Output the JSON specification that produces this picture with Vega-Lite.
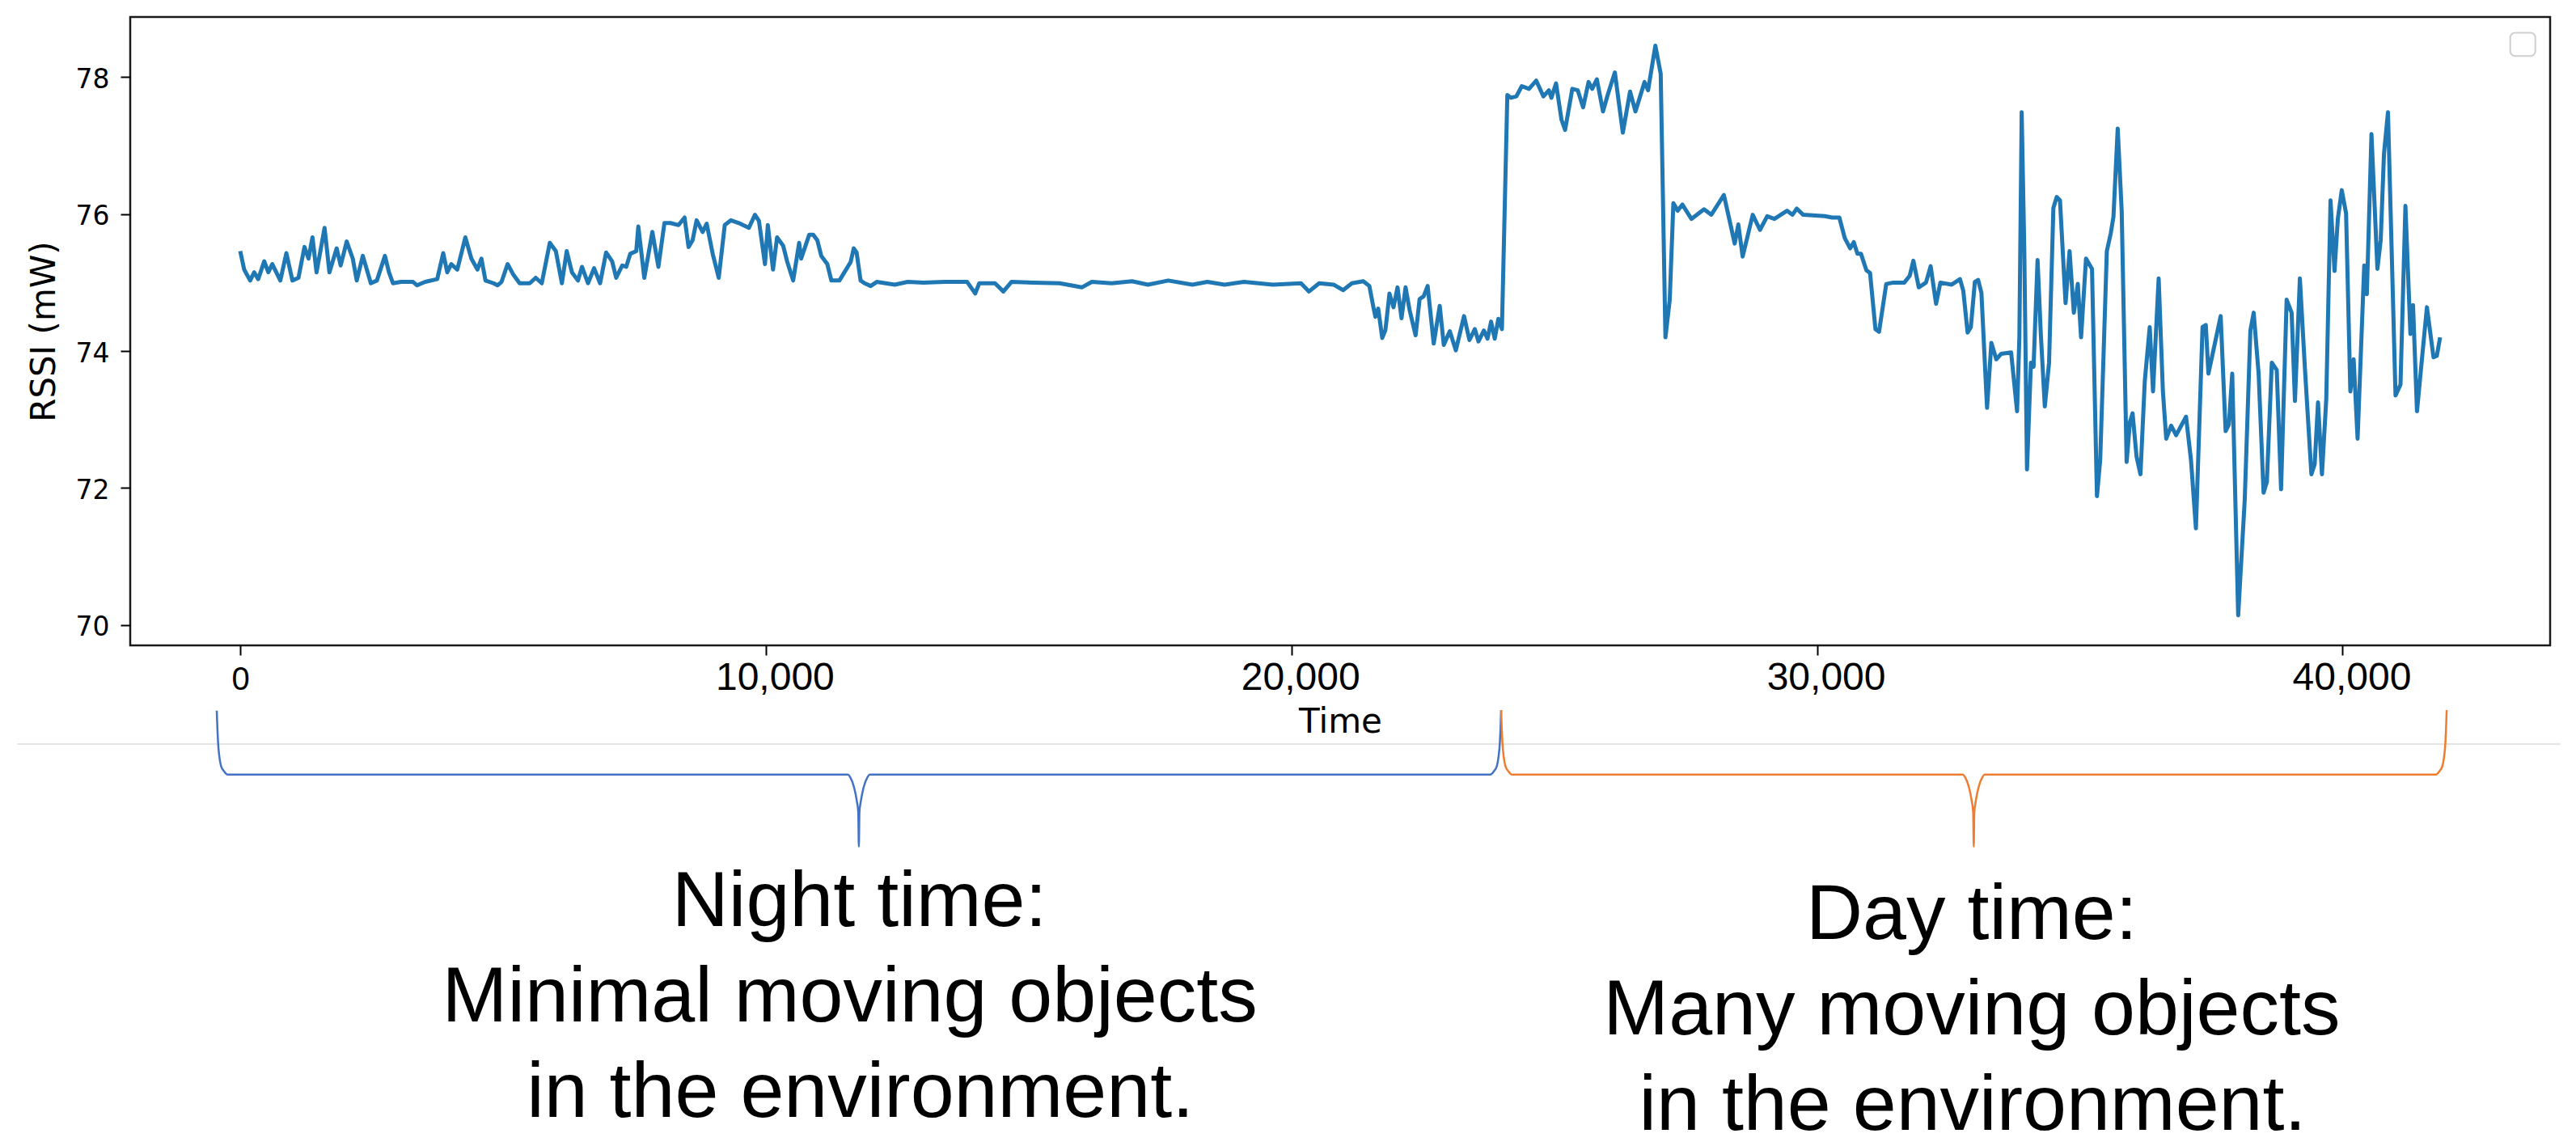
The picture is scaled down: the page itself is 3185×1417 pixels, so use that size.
{
  "$schema": "https://vega.github.io/schema/vega-lite/v6.json",
  "background": "white",
  "padding": {"left": 20, "top": 19, "right": 0, "bottom": 0},
  "autosize": {"type": "pad"},
  "spacing": 0,
  "bounds": "flush",
  "config": {"view": {"stroke": "#1a1a1a", "strokeWidth": 2.5}, "font": "DejaVu Sans"},
  "datasets": {
    "rssi": [
      {"time":0,"rssi":75.46},{"time":75,"rssi":75.19},{"time":189,"rssi":75.03},{"time":266,"rssi":75.15},{"time":342,"rssi":75.05},{"time":457,"rssi":75.31},{"time":534,"rssi":75.15},{"time":610,"rssi":75.27},{"time":763,"rssi":75.03},{"time":878,"rssi":75.43},{"time":993,"rssi":75.03},{"time":1108,"rssi":75.07},{"time":1222,"rssi":75.52},{"time":1299,"rssi":75.35},{"time":1375,"rssi":75.66},{"time":1452,"rssi":75.15},{"time":1605,"rssi":75.80},{"time":1697,"rssi":75.15},{"time":1835,"rssi":75.50},{"time":1911,"rssi":75.25},{"time":2026,"rssi":75.60},{"time":2141,"rssi":75.35},{"time":2217,"rssi":75.03},{"time":2332,"rssi":75.39},{"time":2485,"rssi":74.99},{"time":2600,"rssi":75.03},{"time":2753,"rssi":75.39},{"time":2830,"rssi":75.15},{"time":2906,"rssi":74.99},{"time":3059,"rssi":75.01},{"time":3289,"rssi":75.01},{"time":3365,"rssi":74.96},{"time":3518,"rssi":75.01},{"time":3748,"rssi":75.05},{"time":3862,"rssi":75.43},{"time":3939,"rssi":75.15},{"time":4015,"rssi":75.27},{"time":4130,"rssi":75.19},{"time":4283,"rssi":75.66},{"time":4398,"rssi":75.35},{"time":4513,"rssi":75.19},{"time":4589,"rssi":75.35},{"time":4666,"rssi":75.03},{"time":4819,"rssi":74.99},{"time":4895,"rssi":74.96},{"time":4972,"rssi":75.01},{"time":5087,"rssi":75.27},{"time":5201,"rssi":75.11},{"time":5316,"rssi":74.99},{"time":5508,"rssi":74.99},{"time":5622,"rssi":75.07},{"time":5737,"rssi":74.99},{"time":5890,"rssi":75.58},{"time":6005,"rssi":75.46},{"time":6120,"rssi":74.99},{"time":6212,"rssi":75.46},{"time":6311,"rssi":75.15},{"time":6426,"rssi":75.03},{"time":6502,"rssi":75.23},{"time":6617,"rssi":74.99},{"time":6732,"rssi":75.21},{"time":6847,"rssi":74.99},{"time":6961,"rssi":75.44},{"time":7076,"rssi":75.31},{"time":7153,"rssi":75.07},{"time":7268,"rssi":75.25},{"time":7344,"rssi":75.23},{"time":7421,"rssi":75.42},{"time":7535,"rssi":75.46},{"time":7574,"rssi":75.82},{"time":7688,"rssi":75.07},{"time":7841,"rssi":75.74},{"time":7956,"rssi":75.23},{"time":8071,"rssi":75.87},{"time":8186,"rssi":75.87},{"time":8339,"rssi":75.84},{"time":8454,"rssi":75.95},{"time":8530,"rssi":75.52},{"time":8607,"rssi":75.62},{"time":8683,"rssi":75.91},{"time":8798,"rssi":75.74},{"time":8875,"rssi":75.86},{"time":8989,"rssi":75.42},{"time":9104,"rssi":75.07},{"time":9219,"rssi":75.84},{"time":9334,"rssi":75.91},{"time":9487,"rssi":75.87},{"time":9678,"rssi":75.80},{"time":9793,"rssi":75.99},{"time":9869,"rssi":75.90},{"time":9984,"rssi":75.27},{"time":10038,"rssi":75.84},{"time":10137,"rssi":75.19},{"time":10214,"rssi":75.66},{"time":10329,"rssi":75.54},{"time":10405,"rssi":75.31},{"time":10520,"rssi":75.03},{"time":10634,"rssi":75.58},{"time":10673,"rssi":75.35},{"time":10826,"rssi":75.70},{"time":10902,"rssi":75.70},{"time":10979,"rssi":75.62},{"time":11055,"rssi":75.39},{"time":11170,"rssi":75.27},{"time":11247,"rssi":75.03},{"time":11400,"rssi":75.03},{"time":11614,"rssi":75.30},{"time":11673,"rssi":75.50},{"time":11727,"rssi":75.44},{"time":11803,"rssi":75.03},{"time":11880,"rssi":74.99},{"time":11995,"rssi":74.95},{"time":12110,"rssi":75.01},{"time":12454,"rssi":74.97},{"time":12700,"rssi":75.01},{"time":13000,"rssi":75.00},{"time":13400,"rssi":75.01},{"time":13831,"rssi":75.01},{"time":13984,"rssi":74.84},{"time":14061,"rssi":74.99},{"time":14360,"rssi":74.99},{"time":14520,"rssi":74.87},{"time":14673,"rssi":75.01},{"time":15100,"rssi":75.00},{"time":15591,"rssi":74.99},{"time":16012,"rssi":74.93},{"time":16203,"rssi":75.01},{"time":16580,"rssi":74.99},{"time":16968,"rssi":75.02},{"time":17270,"rssi":74.97},{"time":17657,"rssi":75.03},{"time":18116,"rssi":74.97},{"time":18400,"rssi":75.01},{"time":18728,"rssi":74.97},{"time":19100,"rssi":75.01},{"time":19646,"rssi":74.97},{"time":20182,"rssi":74.99},{"time":20335,"rssi":74.87},{"time":20527,"rssi":74.99},{"time":20800,"rssi":74.97},{"time":20985,"rssi":74.89},{"time":21150,"rssi":74.99},{"time":21368,"rssi":75.02},{"time":21483,"rssi":74.95},{"time":21560,"rssi":74.64},{"time":21598,"rssi":74.50},{"time":21651,"rssi":74.62},{"time":21728,"rssi":74.19},{"time":21789,"rssi":74.31},{"time":21865,"rssi":74.84},{"time":21942,"rssi":74.64},{"time":22019,"rssi":74.93},{"time":22095,"rssi":74.48},{"time":22172,"rssi":74.93},{"time":22248,"rssi":74.60},{"time":22363,"rssi":74.23},{"time":22439,"rssi":74.76},{"time":22516,"rssi":74.80},{"time":22592,"rssi":74.95},{"time":22707,"rssi":74.11},{"time":22822,"rssi":74.66},{"time":22899,"rssi":74.09},{"time":23013,"rssi":74.29},{"time":23128,"rssi":74.01},{"time":23284,"rssi":74.51},{"time":23387,"rssi":74.16},{"time":23490,"rssi":74.32},{"time":23559,"rssi":74.14},{"time":23662,"rssi":74.30},{"time":23731,"rssi":74.18},{"time":23799,"rssi":74.43},{"time":23868,"rssi":74.18},{"time":23937,"rssi":74.47},{"time":24005,"rssi":74.32},{"time":24108,"rssi":77.74},{"time":24177,"rssi":77.70},{"time":24280,"rssi":77.72},{"time":24383,"rssi":77.87},{"time":24520,"rssi":77.83},{"time":24658,"rssi":77.95},{"time":24795,"rssi":77.72},{"time":24898,"rssi":77.81},{"time":24946,"rssi":77.70},{"time":25035,"rssi":77.91},{"time":25138,"rssi":77.38},{"time":25207,"rssi":77.23},{"time":25344,"rssi":77.83},{"time":25447,"rssi":77.81},{"time":25550,"rssi":77.56},{"time":25653,"rssi":77.93},{"time":25722,"rssi":77.83},{"time":25811,"rssi":77.97},{"time":25928,"rssi":77.50},{"time":26017,"rssi":77.74},{"time":26154,"rssi":78.07},{"time":26305,"rssi":77.19},{"time":26443,"rssi":77.79},{"time":26546,"rssi":77.50},{"time":26718,"rssi":77.93},{"time":26786,"rssi":77.81},{"time":26924,"rssi":78.46},{"time":27026,"rssi":78.05},{"time":27116,"rssi":74.20},{"time":27198,"rssi":74.75},{"time":27267,"rssi":76.16},{"time":27349,"rssi":76.05},{"time":27438,"rssi":76.14},{"time":27610,"rssi":75.93},{"time":27850,"rssi":76.07},{"time":27988,"rssi":75.99},{"time":28228,"rssi":76.28},{"time":28434,"rssi":75.57},{"time":28503,"rssi":75.85},{"time":28585,"rssi":75.38},{"time":28777,"rssi":75.99},{"time":28915,"rssi":75.77},{"time":29052,"rssi":75.97},{"time":29189,"rssi":75.93},{"time":29429,"rssi":76.05},{"time":29532,"rssi":75.99},{"time":29615,"rssi":76.08},{"time":29738,"rssi":75.99},{"time":30150,"rssi":75.97},{"time":30288,"rssi":75.95},{"time":30425,"rssi":75.95},{"time":30528,"rssi":75.65},{"time":30631,"rssi":75.50},{"time":30700,"rssi":75.59},{"time":30769,"rssi":75.42},{"time":30837,"rssi":75.42},{"time":30940,"rssi":75.18},{"time":31009,"rssi":75.14},{"time":31112,"rssi":74.32},{"time":31180,"rssi":74.28},{"time":31317,"rssi":74.98},{"time":31455,"rssi":75.00},{"time":31661,"rssi":75.00},{"time":31764,"rssi":75.10},{"time":31833,"rssi":75.32},{"time":31936,"rssi":74.93},{"time":32073,"rssi":75.00},{"time":32162,"rssi":75.24},{"time":32265,"rssi":74.69},{"time":32347,"rssi":75.00},{"time":32563,"rssi":74.97},{"time":32720,"rssi":75.05},{"time":32783,"rssi":74.88},{"time":32865,"rssi":74.27},{"time":32927,"rssi":74.35},{"time":33003,"rssi":75.01},{"time":33065,"rssi":75.04},{"time":33128,"rssi":74.85},{"time":33235,"rssi":73.17},{"time":33317,"rssi":74.12},{"time":33411,"rssi":73.88},{"time":33505,"rssi":73.96},{"time":33693,"rssi":73.98},{"time":33806,"rssi":73.12},{"time":33850,"rssi":74.20},{"time":33894,"rssi":77.49},{"time":33944,"rssi":75.46},{"time":33995,"rssi":72.27},{"time":34070,"rssi":73.83},{"time":34120,"rssi":73.77},{"time":34196,"rssi":75.33},{"time":34258,"rssi":74.25},{"time":34334,"rssi":73.19},{"time":34415,"rssi":73.83},{"time":34497,"rssi":76.09},{"time":34560,"rssi":76.25},{"time":34623,"rssi":76.20},{"time":34729,"rssi":74.70},{"time":34805,"rssi":75.46},{"time":34886,"rssi":74.56},{"time":34962,"rssi":74.98},{"time":35024,"rssi":74.20},{"time":35118,"rssi":75.35},{"time":35232,"rssi":75.20},{"time":35326,"rssi":71.88},{"time":35388,"rssi":72.41},{"time":35514,"rssi":75.46},{"time":35589,"rssi":75.72},{"time":35640,"rssi":75.96},{"time":35721,"rssi":77.25},{"time":35797,"rssi":76.04},{"time":35891,"rssi":72.38},{"time":35953,"rssi":72.96},{"time":36004,"rssi":73.09},{"time":36079,"rssi":72.46},{"time":36154,"rssi":72.20},{"time":36236,"rssi":73.56},{"time":36330,"rssi":74.35},{"time":36393,"rssi":73.41},{"time":36500,"rssi":75.06},{"time":36581,"rssi":73.41},{"time":36644,"rssi":72.72},{"time":36738,"rssi":72.91},{"time":36832,"rssi":72.77},{"time":37021,"rssi":73.04},{"time":37115,"rssi":72.41},{"time":37209,"rssi":71.41},{"time":37335,"rssi":74.35},{"time":37397,"rssi":74.38},{"time":37447,"rssi":73.67},{"time":37680,"rssi":74.51},{"time":37774,"rssi":72.83},{"time":37837,"rssi":72.93},{"time":37900,"rssi":73.67},{"time":38013,"rssi":70.14},{"time":38138,"rssi":71.83},{"time":38245,"rssi":74.30},{"time":38308,"rssi":74.56},{"time":38402,"rssi":73.67},{"time":38496,"rssi":71.93},{"time":38559,"rssi":72.09},{"time":38653,"rssi":73.83},{"time":38747,"rssi":73.72},{"time":38829,"rssi":71.98},{"time":38935,"rssi":74.75},{"time":39030,"rssi":74.56},{"time":39093,"rssi":73.27},{"time":39187,"rssi":75.06},{"time":39281,"rssi":73.77},{"time":39406,"rssi":72.20},{"time":39469,"rssi":72.35},{"time":39532,"rssi":73.25},{"time":39607,"rssi":72.20},{"time":39689,"rssi":73.30},{"time":39770,"rssi":76.20},{"time":39846,"rssi":75.17},{"time":39909,"rssi":75.93},{"time":39984,"rssi":76.35},{"time":40066,"rssi":76.01},{"time":40147,"rssi":73.41},{"time":40210,"rssi":73.88},{"time":40285,"rssi":72.72},{"time":40411,"rssi":75.25},{"time":40461,"rssi":74.83},{"time":40549,"rssi":77.17},{"time":40662,"rssi":75.20},{"time":40725,"rssi":75.62},{"time":40787,"rssi":76.88},{"time":40863,"rssi":77.49},{"time":41007,"rssi":73.35},{"time":41101,"rssi":73.51},{"time":41195,"rssi":76.12},{"time":41290,"rssi":74.25},{"time":41340,"rssi":74.67},{"time":41415,"rssi":73.12},{"time":41509,"rssi":73.88},{"time":41604,"rssi":74.64},{"time":41729,"rssi":73.91},{"time":41792,"rssi":73.93},{"time":41855,"rssi":74.20}
    ],
    "legendbox": [{"x0": 43190, "x1": 43667, "y0": 78.65, "y1": 78.31}],
    "separator": [{"t0": -4242, "t1": 44146, "u": 0.473}],
    "braces": [
      {"brace":"night","i":1,"t":-446,"u":0.99},{"brace":"night","i":2,"t":-434,"u":0.71},{"brace":"night","i":3,"t":-422,"u":0.5},{"brace":"night","i":4,"t":-396,"u":0.27},{"brace":"night","i":5,"t":-365,"u":0.134},{"brace":"night","i":6,"t":-303,"u":0.046},{"brace":"night","i":7,"t":-242,"u":0},
      {"brace":"night","i":8,"t":11563,"u":0},{"brace":"night","i":9,"t":11605,"u":-0.041},{"brace":"night","i":10,"t":11682,"u":-0.208},{"brace":"night","i":11,"t":11733,"u":-0.418},{"brace":"night","i":12,"t":11759,"u":-0.585},{"brace":"night","i":13,"t":11770,"u":-1.117},{"brace":"night","i":14,"t":11781,"u":-0.585},{"brace":"night","i":15,"t":11807,"u":-0.418},{"brace":"night","i":16,"t":11858,"u":-0.208},{"brace":"night","i":17,"t":11935,"u":-0.041},{"brace":"night","i":18,"t":11977,"u":0},
      {"brace":"night","i":19,"t":23786,"u":0},{"brace":"night","i":20,"t":23847,"u":0.046},{"brace":"night","i":21,"t":23909,"u":0.134},{"brace":"night","i":22,"t":23940,"u":0.27},{"brace":"night","i":23,"t":23966,"u":0.5},{"brace":"night","i":24,"t":23978,"u":0.71},{"brace":"night","i":25,"t":23990,"u":1.0},
      {"brace":"day","i":1,"t":23990,"u":1.0},{"brace":"day","i":2,"t":24002,"u":0.71},{"brace":"day","i":3,"t":24014,"u":0.5},{"brace":"day","i":4,"t":24040,"u":0.27},{"brace":"day","i":5,"t":24071,"u":0.134},{"brace":"day","i":6,"t":24133,"u":0.046},{"brace":"day","i":7,"t":24194,"u":0},
      {"brace":"day","i":8,"t":32775,"u":0},{"brace":"day","i":9,"t":32817,"u":-0.041},{"brace":"day","i":10,"t":32894,"u":-0.208},{"brace":"day","i":11,"t":32945,"u":-0.418},{"brace":"day","i":12,"t":32971,"u":-0.585},{"brace":"day","i":13,"t":32982,"u":-1.117},{"brace":"day","i":14,"t":32993,"u":-0.585},{"brace":"day","i":15,"t":33019,"u":-0.418},{"brace":"day","i":16,"t":33070,"u":-0.208},{"brace":"day","i":17,"t":33147,"u":-0.041},{"brace":"day","i":18,"t":33189,"u":0},
      {"brace":"day","i":19,"t":41776,"u":0},{"brace":"day","i":20,"t":41837,"u":0.046},{"brace":"day","i":21,"t":41899,"u":0.134},{"brace":"day","i":22,"t":41930,"u":0.27},{"brace":"day","i":23,"t":41956,"u":0.5},{"brace":"day","i":24,"t":41968,"u":0.71},{"brace":"day","i":25,"t":41980,"u":1.0}
    ],
    "labels": [
      {"region":"night","line":1,"t":11781,"label":"Night time:"},
      {"region":"night","line":2,"t":11597,"label":"Minimal moving objects"},
      {"region":"night","line":3,"t":11797,"label":"in the environment."},
      {"region":"day","line":1,"t":32944,"label":"Day time:"},
      {"region":"day","line":2,"t":32944,"label":"Many moving objects"},
      {"region":"day","line":3,"t":32960,"label":"in the environment."}
    ]
  },
  "vconcat": [
    {
      "width": 2992,
      "height": 777,
      "layer": [
        {
          "data": {"name": "rssi"},
          "mark": {"type": "line", "color": "#1f77b4", "strokeWidth": 5, "strokeJoin": "round"},
          "encoding": {
            "x": {
              "field": "time", "type": "quantitative",
              "scale": {"domain": [-2093, 43948], "nice": false, "zero": false},
              "axis": {
                "title": "Time", "titleFont": "DejaVu Sans", "titleFontSize": 42, "titleFontWeight": "normal", "titleColor": "#000", "titlePadding": 10,
                "values": [0, 10000, 20000, 30000, 40000], "format": ",d",
                "labelFont": "Liberation Sans",
                "labelFontSize": {"condition": {"test": "datum.value == 0", "value": 40}, "value": 48},
                "labelOffset": {"condition": {"test": "datum.value == 0", "value": 0}, "value": 11},
                "labelBaseline": "alphabetic", "labelPadding": 42, "labelColor": "#000", "labelFlush": false, "labelOverlap": false,
                "tickSize": 12, "tickWidth": 2, "tickColor": "#000", "domain": false, "grid": false
              }
            },
            "y": {
              "field": "rssi", "type": "quantitative",
              "scale": {"domain": [69.7, 78.88], "nice": false, "zero": false},
              "axis": {
                "title": "RSSI (mW)", "titleFont": "DejaVu Sans", "titleFontSize": 42, "titleFontWeight": "normal", "titleColor": "#000", "titlePadding": 17,
                "values": [70, 72, 74, 76, 78], "format": "d",
                "labelFont": "DejaVu Sans", "labelFontSize": 33, "labelColor": "#000", "labelPadding": 14, "labelOffset": 3,
                "tickSize": 12, "tickWidth": 2, "tickColor": "#000", "domain": false, "grid": false
              }
            }
          }
        },
        {
          "data": {"name": "legendbox"},
          "mark": {"type": "rect", "fill": "white", "stroke": "#cfcfcf", "strokeWidth": 2, "cornerRadius": 6},
          "encoding": {
            "x": {"field": "x0", "type": "quantitative", "title": "Time"},
            "x2": {"field": "x1"},
            "y": {"field": "y0", "type": "quantitative", "title": "RSSI (mW)"},
            "y2": {"field": "y1"}
          }
        }
      ]
    },
    {
      "width": 2992,
      "height": 620,
      "view": {"stroke": null},
      "layer": [
        {
          "data": {"name": "separator"},
          "mark": {"type": "rule", "color": "#e4e4e4", "strokeWidth": 2},
          "encoding": {
            "x": {"field": "t0", "type": "quantitative", "scale": {"domain": [-2093, 43948], "nice": false, "zero": false}, "axis": null},
            "x2": {"field": "t1"},
            "y": {"field": "u", "type": "quantitative", "scale": {"domain": [-5.775, 2.004], "nice": false, "zero": false}, "axis": null}
          }
        },
        {
          "data": {"name": "braces"},
          "mark": {"type": "line", "strokeWidth": 2.5, "interpolate": "monotone"},
          "encoding": {
            "x": {"field": "t", "type": "quantitative", "scale": {"domain": [-2093, 43948], "nice": false, "zero": false}, "axis": null},
            "y": {"field": "u", "type": "quantitative", "scale": {"domain": [-5.775, 2.004], "nice": false, "zero": false}, "axis": null},
            "color": {"field": "brace", "type": "nominal", "scale": {"domain": ["night", "day"], "range": ["#4472C4", "#ED7D31"]}, "legend": null},
            "order": {"field": "i", "type": "quantitative"}
          }
        },
        {
          "data": {"name": "labels"},
          "transform": [{"filter": "datum.region == 'night'"}],
          "mark": {"type": "text", "font": "Liberation Sans", "fontSize": 97, "align": "center", "baseline": "alphabetic", "color": "#000"},
          "encoding": {
            "x": {"field": "t", "type": "quantitative", "scale": {"domain": [-2093, 43948], "nice": false, "zero": false}, "axis": null},
            "y": {"field": "line", "type": "quantitative", "scale": {"domain": [-1.949, 3.314], "reverse": true, "nice": false, "zero": false}, "axis": null},
            "text": {"field": "label"}
          }
        },
        {
          "data": {"name": "labels"},
          "transform": [{"filter": "datum.region == 'day'"}],
          "mark": {"type": "text", "font": "Liberation Sans", "fontSize": 97, "align": "center", "baseline": "alphabetic", "color": "#000", "dy": 16},
          "encoding": {
            "x": {"field": "t", "type": "quantitative", "scale": {"domain": [-2093, 43948], "nice": false, "zero": false}, "axis": null},
            "y": {"field": "line", "type": "quantitative", "scale": {"domain": [-1.949, 3.314], "reverse": true, "nice": false, "zero": false}, "axis": null},
            "text": {"field": "label"}
          }
        }
      ],
      "resolve": {"scale": {"y": "independent", "color": "independent"}}
    }
  ]
}
